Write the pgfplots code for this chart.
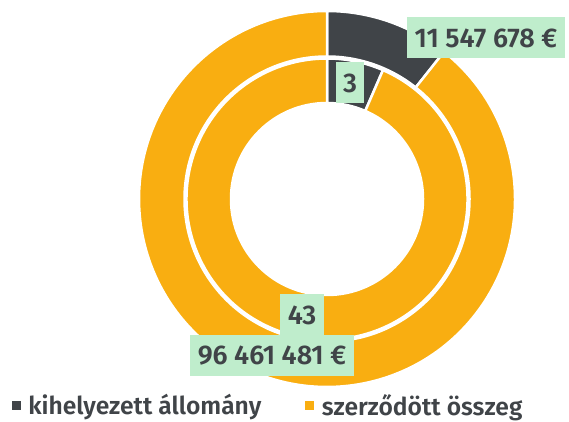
\documentclass[border=0pt]{standalone}
\usepackage{pgfplots}
\pgfplotsset{compat=1.18}
\usepackage{pgfplotstable}
\usepackage{fontspec}
\setmainfont{Fira Sans}[BoldFont={Fira Sans SemiBold}]
\definecolor{dk}{HTML}{404448}
\definecolor{og}{HTML}{F9AE11}
\definecolor{lg}{HTML}{BFEDCC}

\pgfplotstableread{
ring dark orange rin rout
outer 11547678 96461481 142.5 188
inner 3 43 96 140.5
}\rings

\newcommand{\getv}[3]{\pgfplotstablegetelem{#1}{#2}\of\rings\global\let#3\pgfplotsretval}

\begin{document}
\begin{tikzpicture}
\useasboundingbox (0,0) rectangle (569pt,422pt);
\begin{axis}[
  at={(327pt,223pt)}, anchor=origin,
  x=1pt, y=1pt,
  xmin=-327, xmax=242, ymin=-223, ymax=199,
  hide axis, clip=false,
  legend columns=2,
  legend image code/.code={\fill[#1] (0pt,-4pt) rectangle (8pt,4pt);},
  legend style={at={(0.4695,0.039)}, anchor=center, draw=none, fill=none,
    font=\bfseries\fontsize{24.6}{27}\selectfont, text=dk,
    nodes={inner sep=0pt},
    /tikz/every odd column/.append style={column sep=8pt},
    /tikz/every even column/.append style={column sep=44pt}},
  legend cell align=left,
]
\addlegendimage{dk}
\addlegendentry{kihelyezett állomány}
\addlegendimage{og}
\addlegendentry{szerződött összeg}
\foreach \r in {0,1}{
  \getv{\r}{dark}{\vd}
  \getv{\r}{orange}{\vo}
  \getv{\r}{rin}{\ri}
  \getv{\r}{rout}{\ro}
  \edef\ang{\fpeval{90-360*\vd/(\vd+\vo)}}
  \edef\ax{\fpeval{\ro*cosd(\ang)}}
  \edef\ay{\fpeval{\ro*sind(\ang)}}
  \edef\bx{\fpeval{\ri*cosd(\ang)}}
  \edef\by{\fpeval{\ri*sind(\ang)}}
  \edef\temp{\noexpand\filldraw[dk, draw=white, line width=2.5pt] (axis cs:0,\ro) arc[start angle=90, end angle=\ang, radius=\ro pt] -- (axis cs:\bx,\by) arc[start angle=\ang, end angle=90, radius=\ri pt] -- cycle;
  \noexpand\filldraw[og, draw=white, line width=2.5pt] (axis cs:\ax,\ay) arc[start angle=\ang, end angle=-270, radius=\ro pt] -- (axis cs:0,\ri) arc[start angle=-270, end angle=\ang, radius=\ri pt] -- cycle;}
  \temp
}
\tikzset{lab/.style={fill=lg, text=dk, font=\bfseries\fontsize{27}{27}\selectfont, inner xsep=8pt, minimum height=41pt}}
\node[lab] at (axis cs:159,161) {11 547 678 €};
\node[lab, inner xsep=7pt] at (axis cs:23,116) {3};
\node[lab] at (axis cs:-25,-116) {43};
\node[lab] at (axis cs:-55,-157) {96 461 481 €};
\end{axis}
\end{tikzpicture}
\end{document}
